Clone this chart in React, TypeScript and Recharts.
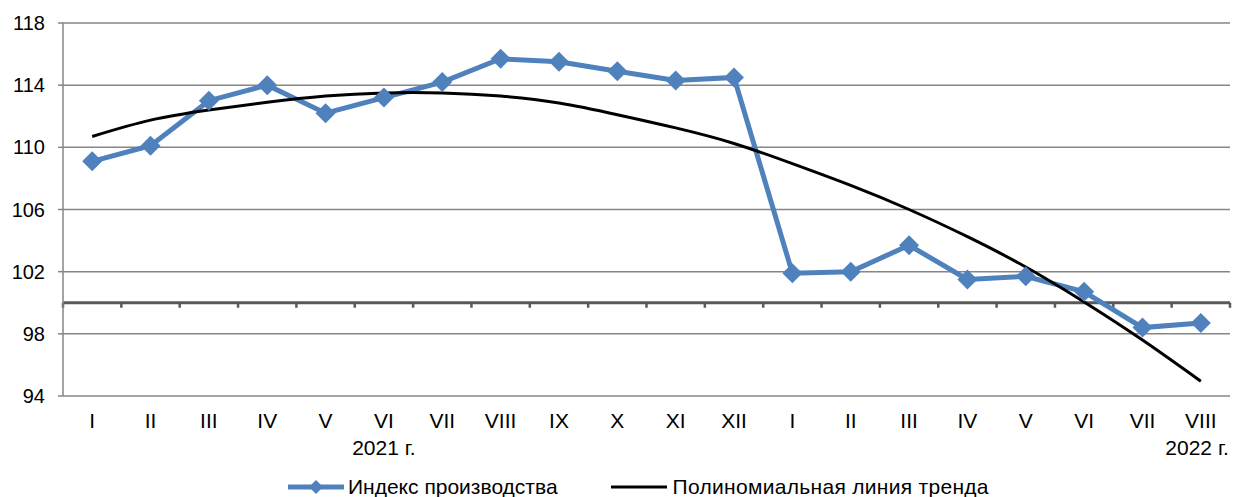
import React from 'react';
import { LineChart, Line, XAxis, YAxis, CartesianGrid, Legend, ReferenceLine } from 'recharts';

// месяцы по оси X
const months = ['I', 'II', 'III', 'IV', 'V', 'VI', 'VII', 'VIII', 'IX', 'X', 'XI', 'XII', 'I', 'II', 'III', 'IV', 'V', 'VI', 'VII', 'VIII'];
const years = ['2021', '2021', '2021', '2021', '2021', '2021', '2021', '2021', '2021', '2021', '2021', '2021', '2022', '2022', '2022', '2022', '2022', '2022', '2022', '2022'];
// подписи годов под выбранными месяцами
const yearLabels: Record<number, string> = { 5: '2021 г.', 19: '2022 г.' };

const productionIndex = [109.1, 110.1, 113.0, 114.0, 112.2, 113.2, 114.2, 115.7, 115.5, 114.9, 114.3, 114.5, 101.9, 102.0, 103.7, 101.5, 101.7, 100.7, 98.4, 98.7];
const trend = [110.7, 111.75, 112.4, 112.9, 113.3, 113.5, 113.5, 113.3, 112.85, 112.1, 111.25, 110.25, 108.95, 107.55, 106.0, 104.25, 102.3, 100.05, 97.6, 94.95];

const yTicks = [94, 98, 102, 106, 110, 114, 118];

const BLUE = '#4f81bd';
const FONT = '"Liberation Sans", Arial, sans-serif';
const STEP = 1167 / months.length;

const data = months.map((m, i) => ({
  id: `${years[i]}-${m}`,
  index: productionIndex[i],
  trend: trend[i],
}));

const Diamond = (props: any) => {
  const { cx, cy } = props;
  const r = 10;
  if (cx == null || cy == null) return null;
  return <polygon points={`${cx},${cy - r} ${cx + r},${cy} ${cx},${cy + r} ${cx - r},${cy}`} fill={BLUE} />;
};

const MonthTick = (props: any) => {
  const { x, y, index } = props;
  const last = index === months.length - 1;
  return (
    <g>
      <text x={x} y={y + 24} textAnchor="middle" fontSize={21} fill="#000" fontFamily={FONT}>
        {months[index]}
      </text>
      {yearLabels[index] && (
        <text x={last ? x + 28 : x} y={y + 51} textAnchor={last ? 'end' : 'middle'} fontSize={21} fill="#000" fontFamily={FONT}>
          {yearLabels[index]}
        </text>
      )}
    </g>
  );
};

// линия 100 с засечками по границам категорий
const BaseLine = (props: any) => {
  const { x1, y1, x2 } = props;
  const left = Math.min(x1, x2);
  const right = Math.max(x1, x2);
  const n = months.length;
  const step = (right - left) / n;
  const marks = [];
  for (let i = 0; i <= n; i++) {
    const x = left + step * i;
    marks.push(<line key={i} x1={x} y1={y1} x2={x} y2={y1 + 5} stroke="#595959" strokeWidth={2.5} />);
  }
  return (
    <g>
      <line x1={left} y1={y1} x2={right} y2={y1} stroke="#595959" strokeWidth={3} />
      {marks}
    </g>
  );
};

const LegendContent = () => (
  <div style={{ height: 26, boxSizing: 'border-box', display: 'flex', alignItems: 'center', paddingLeft: 288, paddingTop: 6, fontFamily: FONT, fontSize: 21, color: '#000', lineHeight: '20px' }}>
    <svg width={56} height={20} style={{ marginRight: 4 }}>
      <line x1={0} y1={10} x2={56} y2={10} stroke={BLUE} strokeWidth={5} />
      <polygon points="28,3 35,10 28,17 21,10" fill={BLUE} />
    </svg>
    <span>Индекс производства</span>
    <svg width={56} height={20} style={{ marginLeft: 53, marginRight: 6 }}>
      <line x1={0} y1={10} x2={56} y2={10} stroke="#000" strokeWidth={3} />
    </svg>
    <span style={{ letterSpacing: 0.3 }}>Полиномиальная линия тренда</span>
  </div>
);

export default function App() {
  return (
    <div style={{ position: 'absolute', left: 0, top: 0, background: '#fff' }}>
      <LineChart width={1239} height={497} data={data} margin={{ top: 23, right: 9, left: 0, bottom: 0 }}>
        <CartesianGrid horizontal vertical={false} stroke="#868686" strokeWidth={1.5} />
        <XAxis
          dataKey="id"
          interval={0}
          height={75}
          axisLine={false}
          tickLine={false}
          padding={{ left: STEP / 2, right: STEP / 2 }}
          tick={<MonthTick />}
        />
        <YAxis
          domain={[94, 118]}
          ticks={yTicks}
          width={63}
          interval={0}
          axisLine={{ stroke: '#868686', strokeWidth: 1.5 }}
          tickLine={{ stroke: '#868686', strokeWidth: 1.5 }}
          tickSize={5}
          tickMargin={13}
          tick={{ fontSize: 20, fill: '#000', fontFamily: FONT }}
        />
        <ReferenceLine y={100} shape={<BaseLine />} />
        <Line
          type="linear"
          dataKey="index"
          stroke={BLUE}
          strokeWidth={5}
          dot={<Diamond />}
          activeDot={false}
          isAnimationActive={false}
          name="Индекс производства"
        />
        <Line
          type="natural"
          dataKey="trend"
          stroke="#000"
          strokeWidth={3}
          dot={false}
          activeDot={false}
          isAnimationActive={false}
          name="Полиномиальная линия тренда"
        />
        <Legend verticalAlign="bottom" content={<LegendContent />} />
      </LineChart>
    </div>
  );
}
